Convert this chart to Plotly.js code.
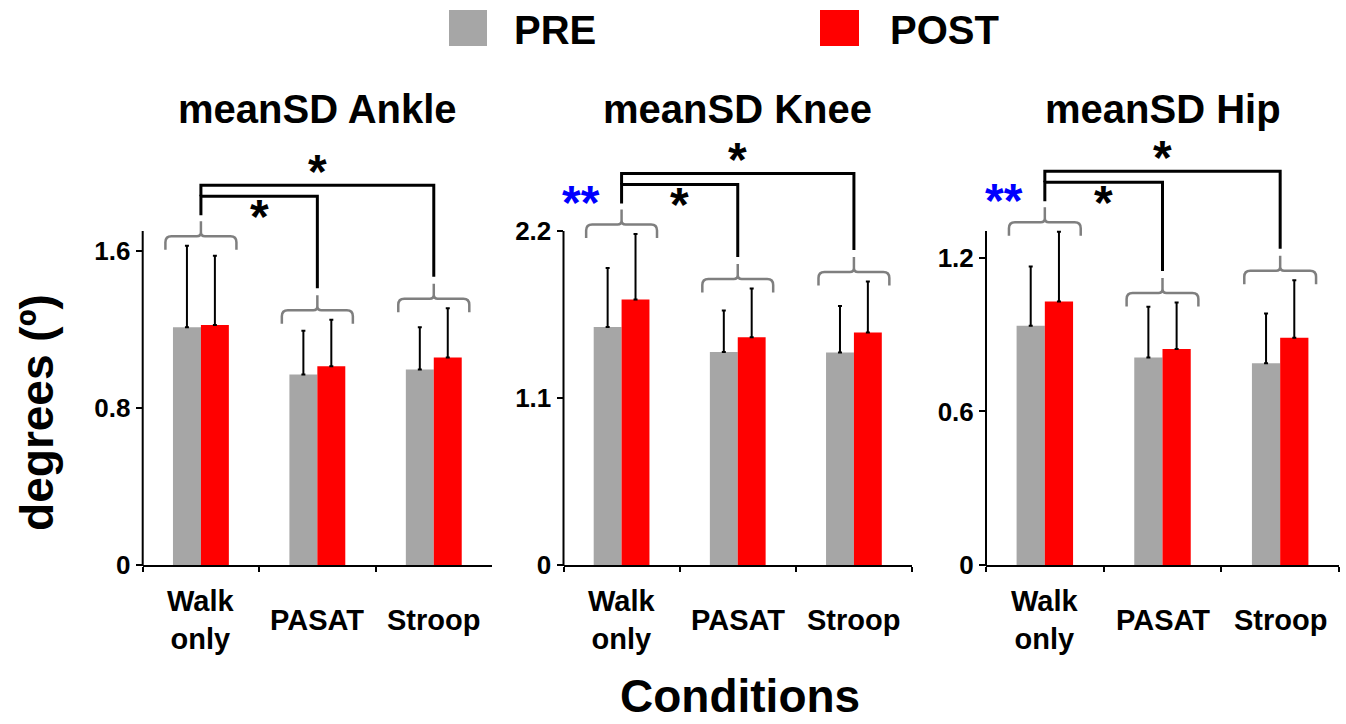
<!DOCTYPE html>
<html>
<head>
<meta charset="utf-8">
<script src="https://cdn.plot.ly/plotly-3.0.1.min.js"></script>
<style>
  html, body { margin: 0; padding: 0; background: #ffffff; }
  #chart { width: 1346px; height: 724px; }
</style>
</head>
<body>
<div id="chart"></div>
<script>
// ---- data -------------------------------------------------------------
const conditions = ['Walk only', 'PASAT', 'Stroop'];
const conditionLabels = ['Walk<br>only', 'PASAT', 'Stroop'];
const panelTitles = ['meanSD Ankle', 'meanSD Knee', 'meanSD Hip'];
const seriesNames = ['PRE', 'POST'];

const anklePre = [1.21, 0.97, 0.995];
const anklePreSD = [0.415, 0.222, 0.215];
const anklePost = [1.222, 1.011, 1.056];
const anklePostSD = [0.352, 0.237, 0.251];

const kneePre = [1.568, 1.403, 1.399];
const kneePreSD = [0.388, 0.273, 0.307];
const kneePost = [1.748, 1.50, 1.531];
const kneePostSD = [0.432, 0.322, 0.337];

const hipPre = [0.935, 0.811, 0.788];
const hipPreSD = [0.231, 0.198, 0.195];
const hipPost = [1.030, 0.844, 0.888];
const hipPostSD = [0.272, 0.182, 0.225];

const ankleTicks = [0, 0.8, 1.6];
const kneeTicks = [0, 1.1, 2.2];
const hipTicks = [0, 0.6, 1.2];

// PRE vs POST marker for the walk-only condition, per panel
const prePostMarks = ['', '**', '**'];
// Walk only vs PASAT, Walk only vs Stroop
const conditionMarks = ['*', '*'];

// ---- styling / geometry ---------------------------------------------------
const FONT = 'Liberation Sans, Arial, Helvetica, sans-serif';
const W = 1346, H = 724;
const PRE_COLOR = '#a6a6a6';
const POST_COLOR = '#ff0000';
const BRACE_COLOR = '#7f7f7f';

const BASE_PX = 565;      // pixel row of the value axis zero
const AXIS_TOP_PX = 231;  // where the drawn value axis ends
const AREA_TOP_PX = 128;  // plotting area continues above for the brackets
const axisPx = BASE_PX - AXIS_TOP_PX;
const areaPx = BASE_PX - AREA_TOP_PX;
const yDomain = [(H - BASE_PX) / H, (H - AREA_TOP_PX) / H];
const xDomainsPx = [[142.7, 492], [563.5, 912], [986, 1339]];

const panels = [
  { pre: anklePre, preSD: anklePreSD, post: anklePost, postSD: anklePostSD, ticks: ankleTicks, top: 1.7 },
  { pre: kneePre, preSD: kneePreSD, post: kneePost, postSD: kneePostSD, ticks: kneeTicks, top: 2.2 },
  { pre: hipPre, preSD: hipPreSD, post: hipPost, postSD: hipPostSD, ticks: hipTicks, top: 1.305 }
];

const traces = [];
const shapes = [];
const annotations = [];
const layout = {
  width: W, height: H,
  margin: { l: 0, r: 0, t: 0, b: 0, pad: 0 },
  paper_bgcolor: '#ffffff', plot_bgcolor: '#ffffff',
  barmode: 'group', bargap: 0.52, bargroupgap: 0,
  showlegend: false,
  font: { family: FONT, color: '#000000', weight: 'bold' }
};

function fmt(v) { return (+v).toFixed(5); }

function bracePath(c, hw, h, drop, peak, rx, ry, rx2, ry2) {
  const a = c - hw, b = c + hw;
  return 'M' + fmt(a) + ',' + fmt(h - drop) +
    ' L' + fmt(a) + ',' + fmt(h - ry) +
    ' Q' + fmt(a) + ',' + fmt(h) + ' ' + fmt(a + rx) + ',' + fmt(h) +
    ' L' + fmt(c - rx2) + ',' + fmt(h) +
    ' Q' + fmt(c) + ',' + fmt(h) + ' ' + fmt(c) + ',' + fmt(h + ry2) +
    ' L' + fmt(c) + ',' + fmt(h + peak) +
    ' M' + fmt(c) + ',' + fmt(h + ry2) +
    ' Q' + fmt(c) + ',' + fmt(h) + ' ' + fmt(c + rx2) + ',' + fmt(h) +
    ' L' + fmt(b - rx) + ',' + fmt(h) +
    ' Q' + fmt(b) + ',' + fmt(h) + ' ' + fmt(b) + ',' + fmt(h - ry) +
    ' L' + fmt(b) + ',' + fmt(h - drop);
}

const STAR_SIZE = 48;
const STAR_SHIFT = -4; // asterisk ink sits high in the em box

panels.forEach((p, i) => {
  const s = i === 0 ? '' : String(i + 1);
  const xr = 'x' + s, yr = 'y' + s;
  const dom = xDomainsPx[i];
  const catPx = (dom[1] - dom[0]) / conditions.length;
  const ux = 1 / catPx;               // category units per pixel
  const uy = p.top / axisPx;          // value units per pixel
  const rangeTop = uy * areaPx;

  layout['xaxis' + s] = {
    domain: [dom[0] / W, dom[1] / W], anchor: yr,
    type: 'category', categoryarray: conditions, categoryorder: 'array',
    range: [-0.5, 2.5], tickson: 'boundaries',
    ticks: 'outside', ticklen: 5, tickwidth: 2, tickcolor: '#000',
    showline: true, linecolor: '#000', linewidth: 2,
    showgrid: false, zeroline: false, showticklabels: false, fixedrange: true
  };
  layout['yaxis' + s] = {
    domain: yDomain, anchor: xr, range: [0, rangeTop],
    tickvals: p.ticks, ticks: 'outside', ticklen: 6, tickwidth: 2, tickcolor: '#000',
    showline: false, showgrid: false, zeroline: false, fixedrange: true,
    tickfont: { family: FONT, size: 26, color: '#000', weight: 'bold' }
  };
  // value axis line, ending just above the top tick
  shapes.push({
    type: 'line', xref: 'paper', yref: 'paper',
    x0: dom[0] / W, x1: dom[0] / W, y0: (H - BASE_PX - 1) / H, y1: (H - AXIS_TOP_PX) / H,
    line: { color: '#000', width: 2 }
  });

  const series = [[p.pre, p.preSD, PRE_COLOR], [p.post, p.postSD, POST_COLOR]];
  series.forEach((sr, k) => {
    traces.push({
      type: 'bar', name: seriesNames[k], x: conditions, y: sr[0],
      xaxis: xr, yaxis: yr, cliponaxis: false,
      marker: { color: sr[2], line: { width: 0 } },
      error_y: {
        type: 'data', symmetric: false, array: sr[1], arrayminus: sr[1].map(() => 0),
        color: '#000', thickness: 2, width: 2
      },
      hoverinfo: 'skip'
    });
  });

  // gray braces grouping PRE/POST of each condition
  const peaks = [];
  conditions.forEach((c, j) => {
    const top = Math.max(p.pre[j] + p.preSD[j], p.post[j] + p.postSD[j]);
    const h = top + 9.5 * uy;
    const peak = 15 * uy;
    peaks.push(h + peak);
    shapes.push({
      type: 'path', xref: xr, yref: yr, layer: 'above',
      path: bracePath(j, 0.305, h, 13.5 * uy, peak, 6 * ux, 6 * uy, 4 * ux, 4 * uy),
      line: { color: BRACE_COLOR, width: 2.5 }
    });
  });

  // black comparison lines from walk-only to the dual-task conditions
  const start = peaks[0] + 6 * uy;
  const inner = peaks[0] + 25 * uy;
  const outer = peaks[0] + 36 * uy;
  shapes.push({
    type: 'path', xref: xr, yref: yr, layer: 'above',
    path: 'M0,' + fmt(start) + ' L0,' + fmt(inner) + ' L1,' + fmt(inner) + ' L1,' + fmt(peaks[1] + 7 * uy),
    line: { color: '#000', width: 3 }
  });
  shapes.push({
    type: 'path', xref: xr, yref: yr, layer: 'above',
    path: 'M0,' + fmt(inner) + ' L0,' + fmt(outer) + ' L2,' + fmt(outer) + ' L2,' + fmt(peaks[2] + 7 * uy),
    line: { color: '#000', width: 3 }
  });

  annotations.push({
    xref: xr, yref: yr, x: 0.5, y: inner - 16 * uy, text: conditionMarks[0],
    showarrow: false, xanchor: 'center', yanchor: 'middle', yshift: STAR_SHIFT,
    font: { family: FONT, size: STAR_SIZE, color: '#000', weight: 'bold' }
  });
  annotations.push({
    xref: xr, yref: yr, x: 1, y: outer + 18 * uy, text: conditionMarks[1],
    showarrow: false, xanchor: 'center', yanchor: 'middle', yshift: STAR_SHIFT,
    font: { family: FONT, size: STAR_SIZE, color: '#000', weight: 'bold' }
  });
  if (prePostMarks[i]) {
    annotations.push({
      xref: xr, yref: yr, x: -0.35, y: peaks[0] + 11 * uy, text: prePostMarks[i],
      showarrow: false, xanchor: 'center', yanchor: 'middle', yshift: STAR_SHIFT,
      font: { family: FONT, size: STAR_SIZE, color: '#0000ff', weight: 'bold' }
    });
  }

  // panel title
  annotations.push({
    xref: 'paper', yref: 'paper', x: (dom[0] + dom[1]) / 2 / W, y: (H - 109.5) / H,
    text: panelTitles[i], showarrow: false, xanchor: 'center', yanchor: 'middle',
    font: { family: FONT, size: 40, color: '#000', weight: 'bold' }
  });

  // condition labels under each axis
  conditionLabels.forEach((lab, j) => {
    annotations.push({
      xref: xr, yref: 'paper', x: j, y: (H - 620) / H, text: lab,
      showarrow: false, xanchor: 'center', yanchor: 'middle', align: 'center',
      font: { family: FONT, size: 29, color: '#000', weight: 'bold' }
    });
  });
});

// axis titles
annotations.push({
  xref: 'paper', yref: 'paper', x: 37.4 / W, y: (H - 412.5) / H, text: 'degrees (º)',
  textangle: -90, showarrow: false, xanchor: 'center', yanchor: 'middle',
  font: { family: FONT, size: 46, color: '#000', weight: 'bold' }
});
annotations.push({
  xref: 'paper', yref: 'paper', x: 740 / W, y: 0, text: 'Conditions',
  showarrow: false, xanchor: 'center', yanchor: 'bottom',
  font: { family: FONT, size: 46, color: '#000', weight: 'bold' }
});

// legend
const legendItems = [
  { box: [449, 487], textX: 512, color: PRE_COLOR },
  { box: [820, 859], textX: 888, color: POST_COLOR }
];
legendItems.forEach((it, k) => {
  shapes.push({
    type: 'rect', xref: 'paper', yref: 'paper',
    x0: it.box[0] / W, x1: it.box[1] / W, y0: (H - 46) / H, y1: (H - 10) / H,
    fillcolor: it.color, line: { width: 0 }
  });
  annotations.push({
    xref: 'paper', yref: 'paper', x: it.textX / W, y: (H - 30) / H, text: seriesNames[k],
    showarrow: false, xanchor: 'left', yanchor: 'middle',
    font: { family: FONT, size: 40, color: '#000', weight: 'bold' }
  });
});

layout.shapes = shapes;
layout.annotations = annotations;

Plotly.newPlot('chart', traces, layout, { displayModeBar: false, staticPlot: true });
</script>
</body>
</html>
